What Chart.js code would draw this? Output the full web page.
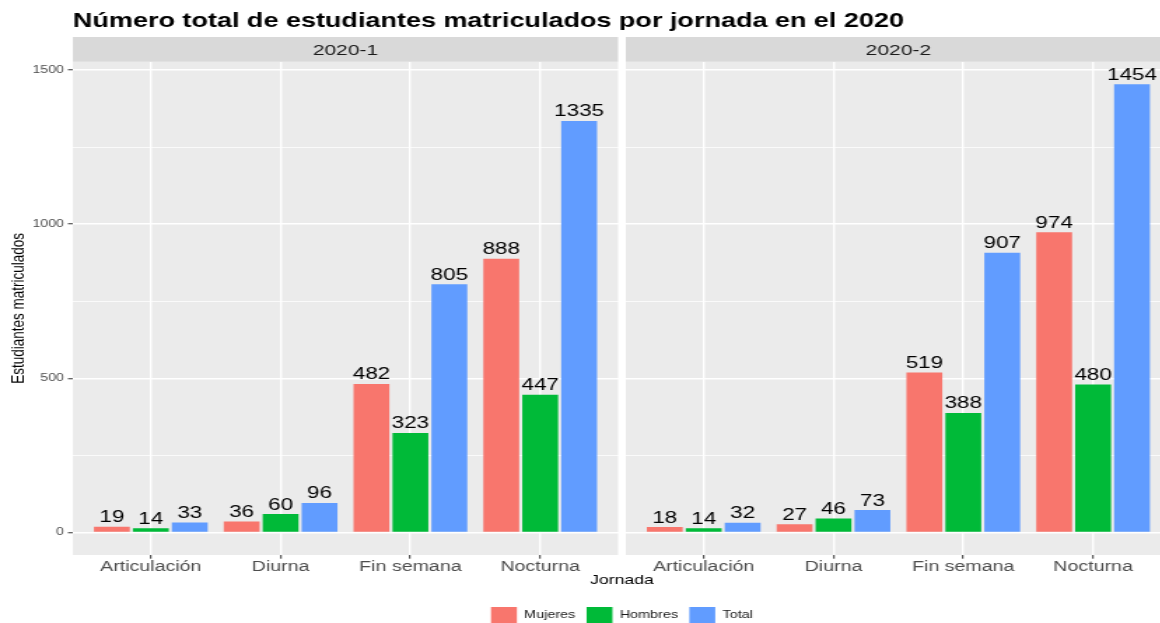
<!DOCTYPE html>
<html><head><meta charset="utf-8">
<script src="https://cdn.jsdelivr.net/npm/chart.js@4.4.1/dist/chart.umd.min.js"></script>
<style>
html,body{margin:0;padding:0;overflow:hidden;background:#fff;width:1160px;height:623px;}
#wrap{position:absolute;left:0;top:0;width:840px;height:623px;transform:scaleX(1.4);transform-origin:0 0;}
</style></head><body>
<div id="wrap"><canvas id="c" width="840" height="623"></canvas></div>
<script>
// ---- data ----
const categories = ['Articulación', 'Diurna', 'Fin semana', 'Nocturna'];
const periods = ['2020-1', '2020-2'];
const seriesNames = ['Mujeres', 'Hombres', 'Total'];
const seriesColors = ['#F8766D', '#00BA38', '#619CFF'];
const mujeres_2020_1 = [19, 36, 482, 888];
const hombres_2020_1 = [14, 60, 323, 447];
const total_2020_1   = [33, 96, 805, 1335];
const mujeres_2020_2 = [18, 27, 519, 974];
const hombres_2020_2 = [14, 46, 388, 480];
const total_2020_2   = [32, 73, 907, 1454];
const yTickLabels = [0, 500, 1000, 1500];
const chartTitle = 'Número total de estudiantes matriculados por jornada en el 2020';
const xTitle = 'Jornada';
const yTitle = 'Estudiantes matriculados';

// ---- layout helpers ----
const FONT = "'Liberation Sans', Arial, Helvetica, sans-serif";
Chart.defaults.font.family = FONT;
const panelSpan = categories.length + 0.2;   // 0.6 expansion each side
const panelGap = 0.06;
const panelOffset = panelSpan + panelGap;
const xMin = 0.4;
const xMax = xMin + 2 * panelSpan + panelGap;
const xTickPositions = [];
periods.forEach((p, pi) => categories.forEach((c, ci) => xTickPositions.push(ci + 1 + pi * panelOffset)));

const allVals = [].concat(mujeres_2020_1, hombres_2020_1, total_2020_1, mujeres_2020_2, hombres_2020_2, total_2020_2);
const dataMax = Math.max(...allVals);
const yMin = -0.05 * dataMax;
const yMax = dataMax * 1.05;

function pts(a, b) {
  return a.map((v, i) => ({x: i + 1, y: v})).concat(b.map((v, i) => ({x: i + 1 + panelOffset, y: v})));
}
const seriesData = [pts(mujeres_2020_1, mujeres_2020_2), pts(hombres_2020_1, hombres_2020_2), pts(total_2020_1, total_2020_2)];

const bgPlugin = {
  id: 'bg',
  beforeDraw(chart) {
    const {ctx, chartArea: ca} = chart;
    ctx.save();
    ctx.fillStyle = '#FFFFFF';
    ctx.fillRect(0, 0, chart.width, chart.height);
    ctx.fillStyle = '#EBEBEB';
    ctx.fillRect(ca.left, ca.top, ca.right - ca.left, ca.bottom - ca.top);
    ctx.restore();
  }
};
const panelPlugin = {
  id: 'panels',
  beforeDatasetsDraw(chart) {
    const {ctx, chartArea: ca} = chart;
    const xs = chart.scales.x;
    ctx.save();
    const gl = xs.getPixelForValue(xMin + panelSpan);
    const gr = xs.getPixelForValue(xMin + panelSpan + panelGap);
    ctx.fillStyle = '#FFFFFF';
    ctx.fillRect(gl, 30, gr - gl, ca.bottom - 30 + 1);
    const stripTop = 37;
    periods.forEach((p, pi) => {
      const l = xs.getPixelForValue(xMin + pi * panelOffset);
      const r = xs.getPixelForValue(xMin + pi * panelOffset + panelSpan);
      ctx.fillStyle = '#D9D9D9';
      ctx.fillRect(l, stripTop, r - l, ca.top - stripTop);
      ctx.fillStyle = '#1A1A1A';
      ctx.font = '15px ' + FONT;
      ctx.textAlign = 'center';
      ctx.textBaseline = 'middle';
      ctx.fillText(p, (l + r) / 2, (stripTop + ca.top) / 2 + 1);
    });
    ctx.restore();
  }
};
const labelPlugin = {
  id: 'vlabels',
  afterDatasetsDraw(chart) {
    const {ctx} = chart;
    ctx.save();
    ctx.fillStyle = '#000000';
    ctx.font = '16px ' + FONT;
    ctx.textAlign = 'center';
    ctx.textBaseline = 'alphabetic';
    chart.data.datasets.forEach((ds, i) => {
      const meta = chart.getDatasetMeta(i);
      meta.data.forEach((el, j) => {
        ctx.fillText(String(ds.data[j].y), el.x, el.y - 4.5);
      });
    });
    ctx.restore();
  }
};

new Chart(document.getElementById('c'), {
  type: 'bar',
  data: {
    datasets: seriesNames.map((n, i) => ({
      label: n,
      data: seriesData[i],
      backgroundColor: seriesColors[i],
      borderWidth: 0,
      categoryPercentage: 0.9,
      barPercentage: 0.92
    }))
  },
  plugins: [bgPlugin, panelPlugin, labelPlugin],
  options: {
    responsive: false,
    devicePixelRatio: 1,
    animation: false,
    layout: {padding: {left: 0, right: 3.6, top: 0, bottom: -11.3}},
    plugins: {
      tooltip: {enabled: false},
      title: {
        display: true, text: chartTitle, align: 'start', fullSize: false,
        color: '#000000', font: {size: 19.3, weight: 'bold'},
        padding: {top: 10.5, bottom: 28.1}
      },
      legend: {
        display: true, position: 'bottom', fullSize: false,
        labels: {boxWidth: 18.5, boxHeight: 17.3, padding: 8, color: '#1A1A1A', font: {size: 10.3}}
      }
    },
    scales: {
      x: {
        type: 'linear', min: xMin, max: xMax, offset: false, bounds: 'data',
        afterBuildTicks: s => { s.ticks = xTickPositions.map(v => ({value: v})); },
        afterFit: s => { s.height = 44; },
        ticks: {autoSkip: false, maxRotation: 0, minRotation: 0, padding: 0.3, color: '#4D4D4D', font: {size: 14},
          callback: (v, i) => categories[i % categories.length]},
        grid: {offset: false, color: '#FFFFFF', lineWidth: 1.4, tickLength: 3.7, tickColor: '#333333', tickWidth: 1},
        border: {display: false},
        title: {display: true, text: xTitle, color: '#000000', font: {size: 12.6}, padding: {top: 0, bottom: 10.5}}
      },
      y: {
        min: yMin, max: yMax,
        afterFit: s => { s.width = 52.1; },
        ticks: {stepSize: 250, includeBounds: false, padding: 3, color: '#4D4D4D', font: {size: 10},
          callback: v => yTickLabels.includes(v) ? String(v) : ''},
        grid: {color: '#FFFFFF',
          lineWidth: c => yTickLabels.includes(c.tick.value) ? 1.5 : 0.75,
          tickLength: 3.6,
          tickColor: c => yTickLabels.includes(c.tick.value) ? '#333333' : 'rgba(0,0,0,0)',
          tickWidth: 1},
        border: {display: false},
        title: {display: true, text: yTitle, color: '#000000', font: {size: 13.5}, padding: {top: 5.2, bottom: 0}}
      }
    }
  }
});
</script>
</body></html>
